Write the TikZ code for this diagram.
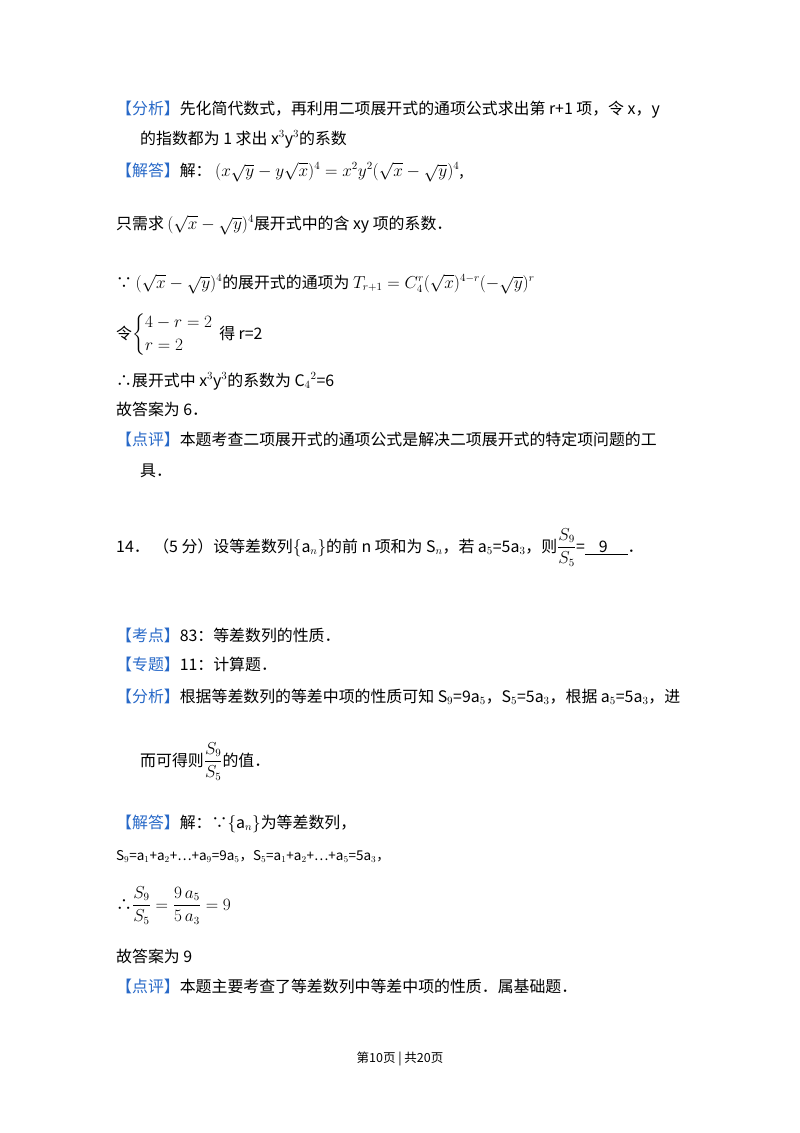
\documentclass[tikz,border=0pt]{standalone}
\usepackage{amsmath}
\usepackage{fontspec}
\setmainfont{Noto Sans CJK SC}
\definecolor{lblue}{RGB}{40,105,200}
\begin{document}
\begin{tikzpicture}[x=1pt,y=-1pt,
  t/.style={anchor=base west,inner sep=0,font=\fontsize{15.9}{19}\selectfont},
  s/.style={anchor=base west,inner sep=0,font=\fontsize{13.5}{16}\selectfont}]
\useasboundingbox[fill=white] (0,0) rectangle (800,1133);
\newcommand{\lb}[1]{\textcolor{lblue}{【#1】}}
\node[t] (l1) at (116,114) {\lb{分析}先化简代数式，再利用二项展开式的通项公式求出第 r+1 项，令 x，y};
\node[t] (l2) at (140,144) {的指数都为 1 求出 x$^3$y$^3$的系数};
\node[t] (l3) at (116,176) {\lb{解答}解：\ $(x\sqrt{y}-y\sqrt{x})^4=x^2y^2(\sqrt{x}-\sqrt{y})^4$,};
\node[t] (l4) at (116,229) {只需求 $(\sqrt{x}-\sqrt{y})^4$展开式中的含 xy 项的系数．};
\node[t] (l5) at (116,288) {∵ $(\sqrt{x}-\sqrt{y})^4$的展开式的通项为 $T_{r+1}=C_4^r(\sqrt{x})^{4-r}(-\sqrt{y})^r$};
\node[t] (l6) at (116,339) {令$\begin{cases}4-r=2\\ r=2\end{cases}$\hspace{-10pt}得 r=2};
\node[t] (l7) at (116,386) {∴展开式中 x$^3$y$^3$的系数为 C$_4$$^2$=6};
\node[t] (l8) at (116,415) {故答案为 6．};
\node[t] (l9) at (116,445) {\lb{点评}本题考查二项展开式的通项公式是解决二项展开式的特定项问题的工};
\node[t] (l10) at (140,476) {具．};
\node[t] (q) at (116,552) {14．\ （5 分）设等差数列$\{$a$_n\}$的前 n 项和为 S$_n$，若 a$_5$=5a$_3$，则$\dfrac{S_9}{S_5}$=\underline{\hspace{14pt}9\hspace{20pt}}．};
\node[t] (k1) at (116,641) {\lb{考点}83：等差数列的性质．};
\node[t] (k2) at (116,670) {\lb{专题}11：计算题．};
\node[t] (k3) at (116,702) {\lb{分析}根据等差数列的等差中项的性质可知 S$_9$=9a$_5$，S$_5$=5a$_3$，根据 a$_5$=5a$_3$，进};
\node[t] (k4) at (140,766) {而可得则$\dfrac{S_9}{S_5}$的值．};
\node[t] (k5) at (116,828) {\lb{解答}解：∵$\{$a$_n\}$为等差数列，};
\node[s] (k6) at (116,860) {S$_9$=a$_1$+a$_2$+…+a$_9$=9a$_5$，S$_5$=a$_1$+a$_2$+…+a$_5$=5a$_3$，};
\node[t] (k7) at (116,910) {∴$\dfrac{S_9}{S_5}=\dfrac{9\,a_5}{5\,a_3}=9$};
\node[t] (k8) at (116,962) {故答案为 9};
\node[t] (k9) at (116,992) {\lb{点评}本题主要考查了等差数列中等差中项的性质．属基础题．};
\node[anchor=base,inner sep=0,font=\fontsize{12.5}{14}\selectfont] (f) at (400,1062) {第10页 | 共20页};
\end{tikzpicture}
\end{document}
